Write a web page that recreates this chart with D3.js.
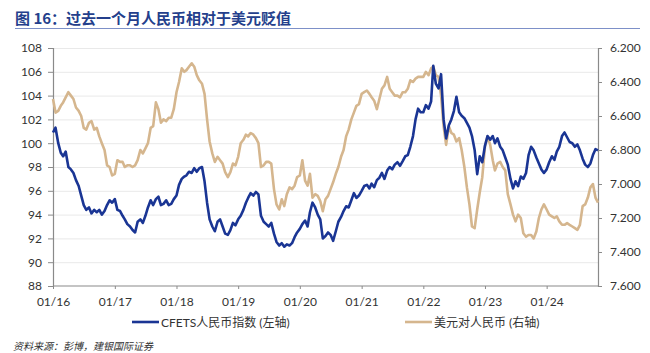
<!DOCTYPE html>
<html><head><meta charset="utf-8">
<script src="https://cdn.jsdelivr.net/npm/d3@7"></script>
<style>
html,body{margin:0;padding:0;background:#fff;}
svg{display:block;}
text{font-family:Lato,"Noto Sans CJK SC",sans-serif;}
</style></head>
<body>
<svg id="c" width="650" height="353"></svg>
<script>
const titleText = "图 16：过去一个月人民币相对于美元贬值";
const sourceText = "资料来源：彭博，建银国际证券";
const seriesNames = ["CFETS人民币指数 (左轴)", "美元对人民币 (右轴)"];
const leftTicks = [88, 90, 92, 94, 96, 98, 100, 102, 104, 106, 108];
const rightTicks = [6.2, 6.4, 6.6, 6.8, 7.0, 7.2, 7.4, 7.6];
const xTickLabels = ["2016-01-01","2017-01-01","2018-01-01","2019-01-01","2020-01-01","2021-01-01","2022-01-01","2023-01-01","2024-01-01"];

const dates = [
"2016-01-01","2016-01-16","2016-02-01","2016-02-16","2016-03-01","2016-03-16","2016-04-01","2016-04-16","2016-05-01","2016-05-16","2016-06-01","2016-06-16","2016-07-01","2016-07-16","2016-08-01","2016-08-16","2016-09-01","2016-09-16","2016-10-01","2016-10-16","2016-11-01","2016-11-16","2016-12-01","2016-12-16",
"2017-01-01","2017-01-16","2017-02-01","2017-02-16","2017-03-01","2017-03-16","2017-04-01","2017-04-16","2017-05-01","2017-05-16","2017-06-01","2017-06-16","2017-07-01","2017-07-16","2017-08-01","2017-08-16","2017-09-01","2017-09-16","2017-10-01","2017-10-16","2017-11-01","2017-11-16","2017-12-01","2017-12-16",
"2018-01-01","2018-01-16","2018-02-01","2018-02-16","2018-03-01","2018-03-16","2018-04-01","2018-04-16","2018-05-01","2018-05-16","2018-06-01","2018-06-16","2018-07-01","2018-07-16","2018-08-01","2018-08-16","2018-09-01","2018-09-16","2018-10-01","2018-10-16","2018-11-01","2018-11-16","2018-12-01","2018-12-16",
"2019-01-01","2019-01-16","2019-02-01","2019-02-16","2019-03-01","2019-03-16","2019-04-01","2019-04-16","2019-05-01","2019-05-16","2019-06-01","2019-06-16","2019-07-01","2019-07-16","2019-08-01","2019-08-16","2019-09-01","2019-09-16","2019-10-01","2019-10-16","2019-11-01","2019-11-16","2019-12-01","2019-12-16",
"2020-01-01","2020-01-16","2020-02-01","2020-02-16","2020-03-01","2020-03-16","2020-04-01","2020-04-16","2020-05-01","2020-05-16","2020-06-01","2020-06-16","2020-07-01","2020-07-16","2020-08-01","2020-08-16","2020-09-01","2020-09-16","2020-10-01","2020-10-16","2020-11-01","2020-11-16","2020-12-01","2020-12-16",
"2021-01-01","2021-01-16","2021-02-01","2021-02-16","2021-03-01","2021-03-16","2021-04-01","2021-04-16","2021-05-01","2021-05-16","2021-06-01","2021-06-16","2021-07-01","2021-07-16","2021-08-01","2021-08-16","2021-09-01","2021-09-16","2021-10-01","2021-10-16","2021-11-01","2021-11-16","2021-12-01","2021-12-16",
"2022-01-01","2022-01-16","2022-02-01","2022-02-16","2022-03-01","2022-03-16","2022-04-01","2022-04-16","2022-05-01","2022-05-16","2022-06-01","2022-06-16","2022-07-01","2022-07-16","2022-08-01","2022-08-16","2022-09-01","2022-09-16","2022-10-01","2022-10-16","2022-11-01","2022-11-16","2022-12-01","2022-12-16",
"2023-01-01","2023-01-16","2023-02-01","2023-02-16","2023-03-01","2023-03-16","2023-04-01","2023-04-16","2023-05-01","2023-05-16","2023-06-01","2023-06-16","2023-07-01","2023-07-16","2023-08-01","2023-08-16","2023-09-01","2023-09-16","2023-10-01","2023-10-16","2023-11-01","2023-11-16","2023-12-01","2023-12-16",
"2024-01-01","2024-01-16","2024-02-01","2024-02-16","2024-03-01","2024-03-16","2024-04-01","2024-04-16","2024-05-01","2024-05-16","2024-06-01","2024-06-16","2024-07-01","2024-07-16","2024-08-01","2024-08-16","2024-09-01","2024-09-16","2024-10-01","2024-10-16","2024-10-31"
];

const cfets = [
100.9,101.3,100.0,99.2,98.9,99.3,98.0,97.8,97.5,96.9,96.4,95.6,94.8,94.4,94.6,94.1,94.4,94.2,94.4,94.0,94.3,94.8,95.2,95.0,
95.3,94.4,94.3,93.9,93.6,93.2,93.0,92.7,92.5,93.4,93.6,93.3,93.9,94.6,95.2,94.8,95.3,95.5,94.8,94.9,95.2,94.8,94.9,95.3,
95.6,96.5,97.0,97.2,97.3,97.6,97.5,97.9,97.6,97.9,98.0,96.8,95.0,93.6,93.0,92.6,93.4,93.6,93.0,92.4,92.3,92.7,93.3,93.1,
93.6,93.9,94.4,95.0,95.4,95.8,95.6,95.9,95.7,93.9,93.4,93.2,93.0,93.3,92.4,91.7,91.4,91.6,91.3,91.5,91.4,91.6,92.1,92.5,
92.8,93.2,93.5,93.0,94.2,95.0,94.6,94.0,93.6,92.0,92.2,92.5,92.3,91.8,92.6,93.4,93.8,94.3,94.7,94.6,95.2,95.8,95.4,95.6,
96.0,96.4,96.5,96.2,96.6,96.3,96.9,97.1,97.5,97.0,97.7,98.0,97.8,98.2,98.4,98.1,98.5,98.9,99.0,99.7,100.6,102.0,102.9,102.6,
102.6,103.2,102.9,103.5,106.5,105.0,104.6,105.8,102.0,100.4,101.5,102.0,102.7,103.9,102.6,102.3,102.1,101.7,101.3,100.6,99.4,97.4,98.9,98.4,
99.8,100.6,100.3,100.6,100.0,100.4,99.7,99.4,98.8,98.2,97.0,96.2,96.8,96.4,97.2,97.0,97.5,99.0,99.7,99.4,98.8,98.3,97.8,97.5,
97.8,98.4,98.9,98.6,99.3,99.7,100.6,100.9,100.5,100.1,100.0,99.7,99.9,99.4,98.7,98.2,98.0,98.3,99.0,99.5,99.4
];

const usdcny = [
6.50,6.58,6.57,6.54,6.52,6.49,6.46,6.48,6.50,6.55,6.57,6.60,6.67,6.68,6.64,6.63,6.68,6.67,6.72,6.76,6.80,6.89,6.90,6.95,
6.94,6.86,6.87,6.87,6.90,6.89,6.89,6.90,6.89,6.86,6.80,6.82,6.79,6.76,6.67,6.66,6.52,6.56,6.64,6.62,6.63,6.61,6.61,6.56,
6.46,6.40,6.32,6.34,6.33,6.31,6.29,6.31,6.36,6.39,6.41,6.47,6.62,6.75,6.82,6.87,6.84,6.86,6.88,6.93,6.96,6.93,6.88,6.89,
6.84,6.76,6.74,6.71,6.72,6.70,6.71,6.73,6.76,6.90,6.89,6.87,6.87,6.88,7.03,7.12,7.15,7.09,7.13,7.06,7.02,7.03,7.01,6.96,
6.95,6.86,6.98,7.01,6.94,7.08,7.06,7.07,7.10,7.16,7.09,7.07,7.03,6.99,6.94,6.90,6.84,6.80,6.72,6.68,6.62,6.58,6.54,6.53,
6.47,6.46,6.45,6.47,6.49,6.51,6.56,6.50,6.44,6.42,6.37,6.44,6.46,6.48,6.48,6.49,6.46,6.46,6.44,6.39,6.40,6.38,6.37,6.37,
6.37,6.34,6.36,6.32,6.31,6.36,6.37,6.48,6.66,6.77,6.66,6.70,6.71,6.75,6.73,6.80,6.90,7.02,7.12,7.25,7.26,7.15,7.05,6.96,
6.78,6.72,6.77,6.86,6.92,6.88,6.87,6.90,6.92,7.06,7.12,7.18,7.22,7.18,7.20,7.29,7.31,7.30,7.30,7.32,7.28,7.20,7.15,7.12,
7.15,7.18,7.19,7.20,7.19,7.22,7.24,7.24,7.23,7.24,7.25,7.26,7.27,7.24,7.13,7.12,7.08,7.02,7.00,7.08,7.11
];

const parse = d3.timeParse("%Y-%m-%d");
const svg = d3.select("#c");
const L = 53, R = 598, T = 48, B = 286;
const blue = "#1a3594", tan = "#d5b68e", axisCol = "#8a8a8a", txt = "#333";

const x = d3.scaleTime().domain([parse("2016-01-01"), parse("2024-10-31")]).range([L, R]);
const yL = d3.scaleLinear().domain([88, 108]).range([B, T]);
const yR = d3.scaleLinear().domain([7.6, 6.2]).range([B, T]);

// title
svg.append("text").attr("x", 15).attr("y", 24).attr("font-size", 15).attr("font-weight", "bold")
  .attr("fill", "#243f8c").style("font-family", "'Noto Sans CJK SC',sans-serif").text(titleText);
svg.append("line").attr("x1", 15).attr("x2", 640).attr("y1", 28.5).attr("y2", 28.5)
  .attr("stroke", "#7d90c8").attr("stroke-width", 1);

// gridlines
svg.append("g").selectAll("line").data(leftTicks.slice(1)).join("line")
  .attr("x1", L).attr("x2", R).attr("y1", d => yL(d) + 0.5).attr("y2", d => yL(d) + 0.5)
  .attr("stroke", "#e9e9e9").attr("stroke-width", 1);

// axes
const axL = svg.append("g").attr("transform", `translate(${L},0)`)
  .call(d3.axisLeft(yL).tickValues(leftTicks).tickSize(5).tickPadding(6).tickFormat(d3.format("d")));
const axR = svg.append("g").attr("transform", `translate(${R},0)`)
  .call(d3.axisRight(yR).tickValues(rightTicks).tickSize(4).tickPadding(8).tickFormat(d3.format(".3f")));
const axB = svg.append("g").attr("transform", `translate(0,${B})`)
  .call(d3.axisBottom(x).tickValues(xTickLabels.map(parse)).tickSize(3).tickPadding(8).tickFormat(d3.timeFormat("%m/%y")));
[axL, axR, axB].forEach(a => {
  a.select(".domain").attr("stroke", axisCol).attr("stroke-width", 1.2);
  a.selectAll(".tick line").attr("stroke", axisCol);
  a.selectAll("text").attr("fill", txt).attr("font-size", 12).style("font-family", "Lato,sans-serif");
});
axB.select(".domain").attr("d", `M${L},0H${R}`);

// lines
const data = dates.map((d, i) => ({ date: parse(d), c: cfets[i], u: usdcny[i] }));
const lineU = d3.line().x(d => x(d.date)).y(d => yR(d.u));
const lineC = d3.line().x(d => x(d.date)).y(d => yL(d.c));
svg.append("path").datum(data).attr("d", lineU).attr("fill", "none").attr("stroke", tan)
  .attr("stroke-width", 2.6).attr("stroke-linejoin", "round");
svg.append("path").datum(data).attr("d", lineC).attr("fill", "none").attr("stroke", blue)
  .attr("stroke-width", 2.6).attr("stroke-linejoin", "round");

// legend
const legend = [{ name: seriesNames[0], color: blue, x: 132 }, { name: seriesNames[1], color: tan, x: 405 }];
const lg = svg.append("g");
legend.forEach(it => {
  lg.append("line").attr("x1", it.x).attr("x2", it.x + 27).attr("y1", 322).attr("y2", 322)
    .attr("stroke", it.color).attr("stroke-width", 2.6);
  lg.append("text").attr("x", it.x + 29).attr("y", 326.5).attr("font-size", 12).attr("fill", txt)
    .style("font-family", "Lato,'Noto Sans CJK SC',sans-serif").text(it.name);
});

// source
svg.append("text").attr("x", 13).attr("y", 350).attr("font-size", 10).attr("font-style", "italic")
  .attr("fill", txt).style("font-family", "'Noto Sans CJK SC',sans-serif").text(sourceText);
</script>
</body></html>
